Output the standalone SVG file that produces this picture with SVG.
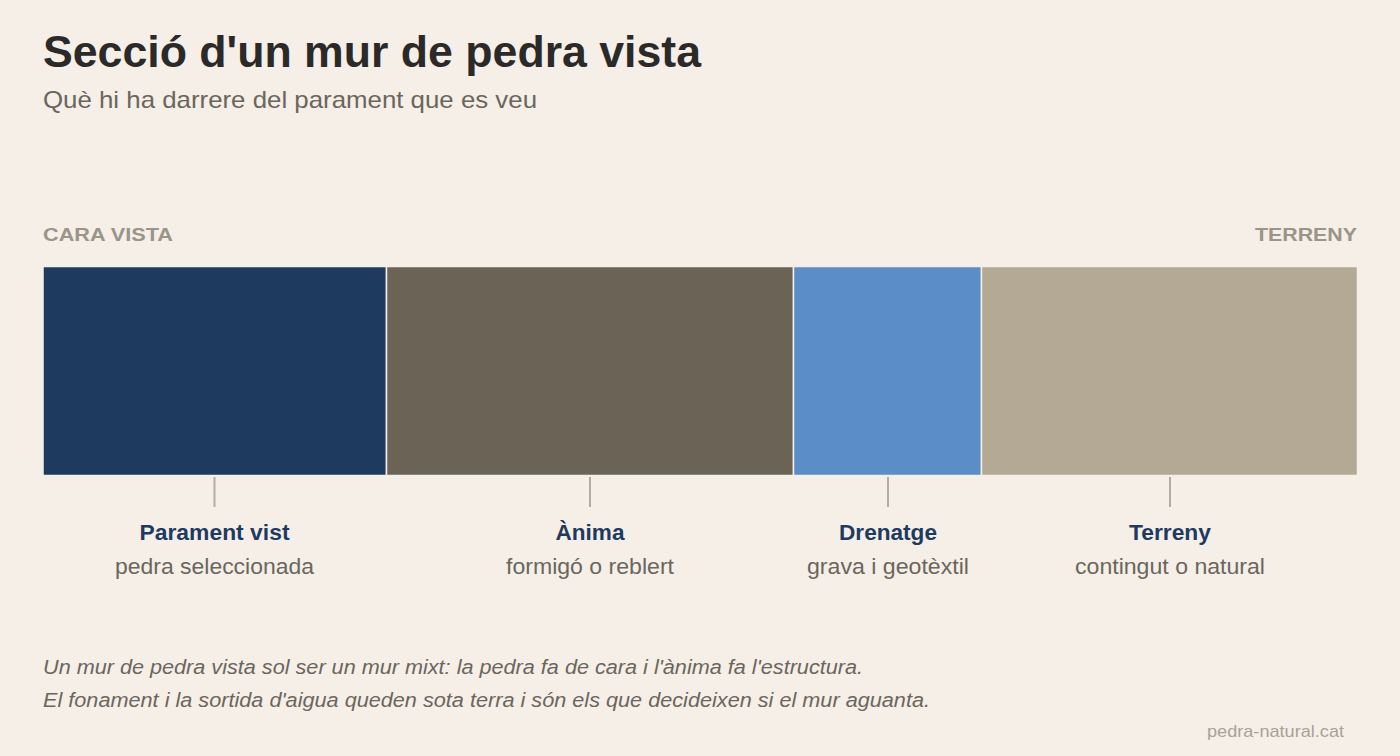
<svg xmlns="http://www.w3.org/2000/svg" width="1400" height="756" viewBox="0 0 1400 756">
<style>
text{font-family:"Liberation Sans",Arial,sans-serif}
.title{font-size:44px;font-weight:bold;fill:#2b2a28}
.sub{font-size:24px;fill:#6b665c}
.caps{font-size:19px;font-weight:bold;fill:#9a9489}
.seg{stroke:#f5efe8;stroke-width:1.5}
.tick{stroke:#b3ada2;stroke-width:2}
.lab{font-size:22px;font-weight:bold;fill:#1f3a5f;text-anchor:middle}
.desc{font-size:22px;fill:#6b665c;text-anchor:middle}
.note{font-size:20px;font-style:italic;fill:#6b665c}
.mark{font-size:17px;fill:#a8a297;text-anchor:end}
</style>
<rect width="1400" height="756" fill="#f5efe8"/>
<text class="title" x="43" y="67" textLength="658" lengthAdjust="spacingAndGlyphs">Secció d'un mur de pedra vista</text>
<text class="sub" x="43" y="108" textLength="494" lengthAdjust="spacingAndGlyphs">Què hi ha darrere del parament que es veu</text>
<text class="caps" x="43" y="241" textLength="130" lengthAdjust="spacingAndGlyphs">CARA VISTA</text>
<text class="caps" x="1357" y="241" text-anchor="end" textLength="102" lengthAdjust="spacingAndGlyphs">TERRENY</text>
<g id="parament"><rect class="seg" x="43" y="266.5" width="343.5" height="209" fill="#1f3a5f"/><line class="tick" x1="214.5" y1="477" x2="214.5" y2="507"/><text class="lab" x="214.5" y="540" textLength="150" lengthAdjust="spacingAndGlyphs">Parament vist</text><text class="desc" x="214.5" y="574" textLength="199" lengthAdjust="spacingAndGlyphs">pedra seleccionada</text></g>
<g id="anima"><rect class="seg" x="386.5" y="266.5" width="407" height="209" fill="#6b6456"/><line class="tick" x1="590" y1="477" x2="590" y2="507"/><text class="lab" x="590" y="540" textLength="69" lengthAdjust="spacingAndGlyphs">Ànima</text><text class="desc" x="590" y="574" textLength="168" lengthAdjust="spacingAndGlyphs">formigó o reblert</text></g>
<g id="drenatge"><rect class="seg" x="793.5" y="266.5" width="188" height="209" fill="#5b8dc9"/><line class="tick" x1="888" y1="477" x2="888" y2="507"/><text class="lab" x="888" y="540" textLength="98" lengthAdjust="spacingAndGlyphs">Drenatge</text><text class="desc" x="888" y="574" textLength="162" lengthAdjust="spacingAndGlyphs">grava i geotèxtil</text></g>
<g id="terreny"><rect class="seg" x="981.5" y="266.5" width="376" height="209" fill="#b3a995"/><line class="tick" x1="1170" y1="477" x2="1170" y2="507"/><text class="lab" x="1170" y="540" textLength="82" lengthAdjust="spacingAndGlyphs">Terreny</text><text class="desc" x="1170" y="574" textLength="190" lengthAdjust="spacingAndGlyphs">contingut o natural</text></g>
<g id="connectors"/>
<text class="note" x="43" y="674" textLength="820" lengthAdjust="spacingAndGlyphs">Un mur de pedra vista sol ser un mur mixt: la pedra fa de cara i l'ànima fa l'estructura.</text>
<text class="note" x="43" y="707" textLength="887" lengthAdjust="spacingAndGlyphs">El fonament i la sortida d'aigua queden sota terra i són els que decideixen si el mur aguanta.</text>
<text class="mark" x="1344" y="737" textLength="137" lengthAdjust="spacingAndGlyphs">pedra-natural.cat</text>
</svg>
